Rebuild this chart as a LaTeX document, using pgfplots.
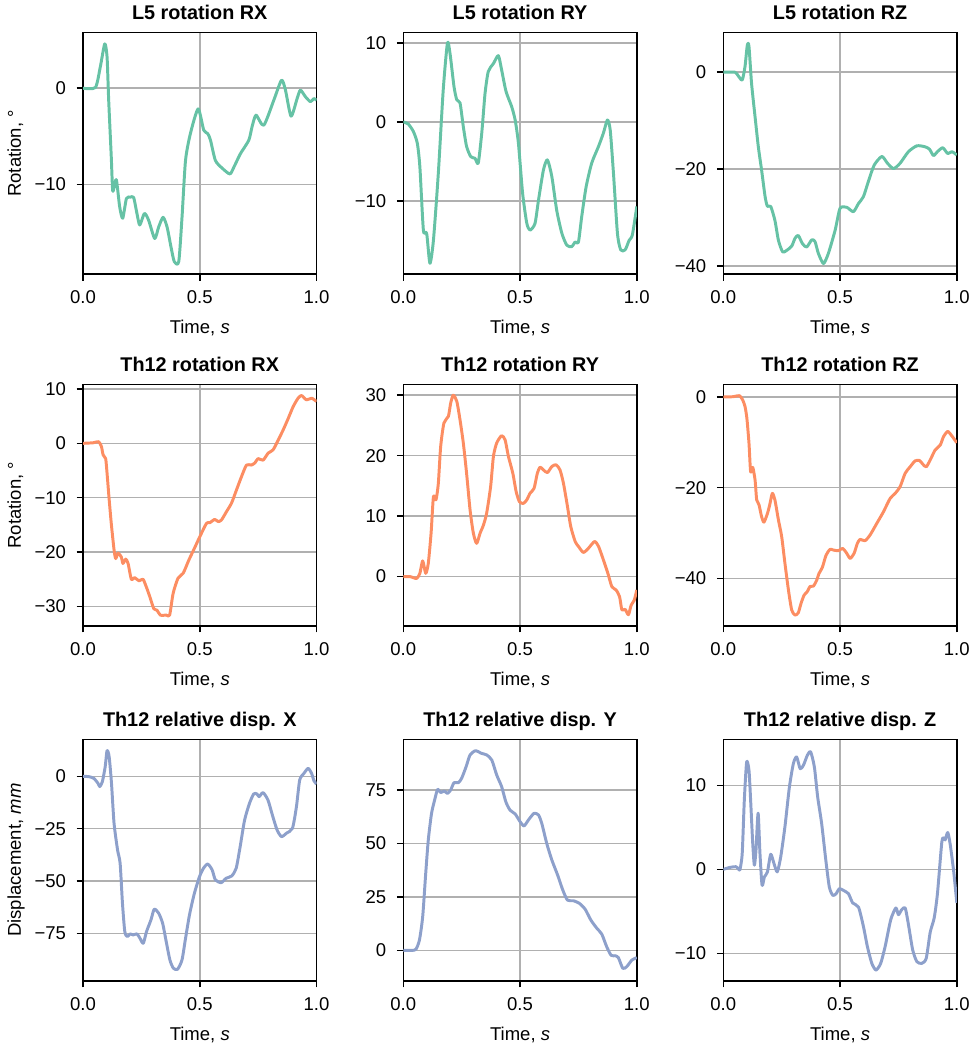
\documentclass[border=0pt]{standalone}
\usepackage{fontspec}
\setmainfont{Liberation Sans}
\usepackage{pgfplots}
\pgfplotsset{compat=1.18}
\definecolor{cg}{HTML}{66C2A5}
\definecolor{co}{HTML}{FC8D62}
\definecolor{cb}{HTML}{8DA0CB}
\definecolor{gridc}{HTML}{B0B0B0}
\pgfplotsset{
  myax/.style={
    scale only axis, width=126.1pt, height=130.5pt,
    anchor=north west,
    xmin=0, xmax=1,
    xtick={0,0.5,1}, xticklabels={0.0,0.5,1.0},
    grid=major, major grid style={gridc, line width=0.8pt},
    axis line style={line width=0.8pt},
    every tick/.style={black, line width=0.8pt},
    major tick length=3.5pt,
    tick align=outside, xtick pos=bottom, ytick pos=left,
    xticklabel style={anchor=north, inner sep=0pt, yshift=-5.3pt},
    yticklabel style={anchor=east, inner sep=0pt, xshift=-5.5pt},
    title style={font=\fontsize{10.7}{12}\selectfont\bfseries, at={(axis description cs:0.5,1.0076)}, anchor=base, inner sep=0pt},
    xlabel style={at={(axis description cs:0.5,-0.246)}, anchor=base, inner sep=0pt},
    ylabel style={at={(axis description cs:-0.266,0.5)}, anchor=base, inner sep=0pt},
    xlabel={Time, \textit{s}},
    every axis plot/.append style={line width=1.6pt, line join=round, smooth, tension=0.4},
  }
}
\begin{document}
\begin{tikzpicture}
\path[use as bounding box] (0,0) rectangle (527.04pt,-564.84pt);
% Row 1
\begin{axis}[myax, at={(44.82pt,-17.55pt)}, title={L5 rotation RX}, ylabel={Rotation, °},
  ymin=-19.3, ymax=5.78, ytick={-10,0}, yticklabels={−10,0}]
\addplot[cg] coordinates {(0,0)(0.053,0.07)(0.074,2.2)(0.093,4.6)(0.103,3.25)(0.11,-1.25)(0.121,-7.1)(0.127,-10.6)(0.134,-10.2)(0.143,-9.5)(0.157,-12.3)(0.17,-13.5)(0.186,-11.45)(0.203,-11.3)(0.217,-11.35)(0.231,-13.0)(0.243,-14.2)(0.263,-13.0)(0.281,-13.7)(0.307,-15.6)(0.324,-14.4)(0.343,-13.4)(0.36,-14.4)(0.377,-16.5)(0.391,-18.0)(0.41,-18.0)(0.424,-13.4)(0.439,-7.5)(0.46,-4.7)(0.493,-2.15)(0.517,-4.35)(0.534,-4.7)(0.546,-5.4)(0.567,-7.5)(0.596,-8.3)(0.629,-8.9)(0.646,-8.2)(0.674,-6.8)(0.71,-5.4)(0.724,-4.0)(0.741,-2.8)(0.774,-3.85)(0.817,-1.25)(0.85,0.83)(0.867,-0.2)(0.891,-2.9)(0.917,-1.07)(0.931,-0.2)(0.953,-0.9)(0.974,-1.4)(0.989,-1.07)(1.0,-1.25)};
\end{axis}
\begin{axis}[myax, at={(217.78pt,-17.55pt)}, title={L5 rotation RY},
  ymin=-19.28, ymax=11.33, ytick={-10,0,10}, yticklabels={−10,0,10}]
\addplot[cg] coordinates {(0,0)(0.021,-0.25)(0.043,-1.2)(0.06,-2.7)(0.071,-5.7)(0.086,-13.7)(0.1,-14.1)(0.114,-17.9)(0.129,-15)(0.15,-6.5)(0.171,4.06)(0.189,10)(0.2,8.7)(0.217,4.5)(0.229,2.8)(0.243,2.4)(0.257,-0.6)(0.271,-3.1)(0.289,-4.4)(0.307,-4.6)(0.321,-5.2)(0.336,-1.4)(0.35,3.6)(0.364,6.4)(0.386,7.4)(0.407,8.4)(0.421,6.6)(0.44,3.85)(0.464,1.95)(0.479,0.25)(0.493,-2.7)(0.511,-9.05)(0.529,-12.85)(0.543,-13.7)(0.564,-12.85)(0.579,-9.9)(0.6,-6.1)(0.617,-4.8)(0.636,-6.9)(0.657,-11.2)(0.679,-14.1)(0.7,-15.6)(0.721,-15.8)(0.736,-15.2)(0.75,-15.2)(0.764,-12.0)(0.783,-8.2)(0.807,-5.2)(0.836,-3.1)(0.857,-1.4)(0.874,0.25)(0.886,-1.0)(0.9,-6.5)(0.917,-14.1)(0.931,-16.2)(0.95,-16.2)(0.967,-15.0)(0.981,-14.3)(1.0,-10.7)};
\end{axis}
\begin{axis}[myax, at={(390.58pt,-17.55pt)}, title={L5 rotation RZ},
  ymin=-41.7, ymax=8.2, ytick={-40,-20,0}, yticklabels={−40,−20,0}]
\addplot[cg] coordinates {(0,0)(0.05,0)(0.064,-0.76)(0.081,-1.6)(0.093,1.2)(0.103,5.66)(0.11,5.3)(0.121,-2.3)(0.136,-9.2)(0.15,-15.4)(0.164,-20.2)(0.179,-25.7)(0.189,-27.7)(0.203,-27.7)(0.221,-30.6)(0.236,-34.7)(0.254,-37.1)(0.271,-36.8)(0.293,-35.9)(0.307,-34.3)(0.321,-33.7)(0.339,-35.4)(0.357,-36.1)(0.379,-34.6)(0.393,-35)(0.407,-37.4)(0.429,-39.5)(0.45,-37.4)(0.479,-32.6)(0.5,-28.1)(0.529,-27.9)(0.557,-28.8)(0.579,-27.1)(0.6,-25.7)(0.621,-22.6)(0.646,-19.2)(0.679,-17.4)(0.703,-18.8)(0.729,-19.9)(0.757,-18.8)(0.793,-16.4)(0.829,-15.2)(0.864,-15.4)(0.883,-15.9)(0.9,-17.2)(0.917,-16.4)(0.94,-15.6)(0.961,-16.8)(0.979,-16.4)(1.0,-17.1)};
\end{axis}
% Row 2
\begin{axis}[myax, at={(44.82pt,-207.52pt)}, title={Th12 rotation RX}, ylabel={Rotation, °},
  ymin=-33.6, ymax=10.86, ytick={-30,-20,-10,0,10}, yticklabels={−30,−20,−10,0,10}]
\addplot[co] coordinates {(0,0)(0.043,0.1)(0.067,0.3)(0.079,-0.6)(0.086,-2.1)(0.097,-2.8)(0.103,-5.5)(0.111,-9.8)(0.121,-14.7)(0.133,-19.6)(0.14,-21.2)(0.15,-20.2)(0.164,-20.9)(0.171,-22.1)(0.183,-21.3)(0.193,-22.1)(0.207,-25.0)(0.221,-24.7)(0.24,-25.3)(0.257,-25.0)(0.271,-26.4)(0.286,-28.2)(0.303,-30.4)(0.317,-30.7)(0.331,-31.6)(0.357,-31.6)(0.371,-31.6)(0.386,-27.6)(0.407,-24.8)(0.429,-23.9)(0.453,-21.5)(0.474,-19.6)(0.5,-17.2)(0.529,-14.7)(0.543,-14.6)(0.564,-14.0)(0.579,-14.4)(0.593,-14.1)(0.614,-12.6)(0.636,-11.0)(0.657,-8.6)(0.679,-6.1)(0.7,-4.0)(0.721,-4.0)(0.736,-3.6)(0.75,-2.8)(0.771,-3.1)(0.793,-1.8)(0.814,-1.2)(0.836,0.6)(0.857,2.45)(0.879,4.6)(0.9,6.75)(0.921,8.3)(0.936,8.8)(0.957,8.0)(0.979,8.3)(1.0,7.7)};
\end{axis}
\begin{axis}[myax, at={(217.78pt,-207.52pt)}, title={Th12 rotation RY},
  ymin=-8.16, ymax=31.8, ytick={0,10,20,30}, yticklabels={0,10,20,30}]
\addplot[co] coordinates {(0,0)(0.029,0)(0.057,-0.3)(0.071,0.55)(0.083,2.6)(0.096,0.55)(0.107,2.2)(0.119,7.2)(0.129,13.2)(0.14,12.7)(0.15,15.4)(0.16,21.5)(0.174,25.4)(0.193,26.5)(0.203,28.7)(0.214,30)(0.229,29)(0.243,25.9)(0.257,22.1)(0.271,17.1)(0.286,11)(0.3,7.2)(0.314,5.5)(0.329,7.2)(0.343,8.5)(0.357,10.5)(0.374,14.9)(0.386,19.9)(0.4,22.1)(0.421,23.3)(0.436,22.6)(0.45,19.9)(0.469,17.1)(0.483,14.1)(0.497,12.4)(0.514,12.1)(0.529,12.7)(0.543,13.8)(0.56,14.6)(0.574,17.1)(0.586,18.1)(0.6,17.65)(0.617,17.2)(0.636,18.2)(0.654,18.5)(0.671,17.65)(0.686,15.4)(0.703,11.6)(0.717,8.3)(0.736,5.8)(0.75,5.0)(0.771,4.0)(0.793,4.7)(0.819,5.8)(0.836,5.0)(0.857,2.75)(0.876,0.55)(0.893,-1.65)(0.911,-2.2)(0.926,-3.3)(0.936,-5.5)(0.95,-5.4)(0.964,-6.3)(0.976,-4.7)(0.989,-3.9)(1.0,-2.2)};
\end{axis}
\begin{axis}[myax, at={(390.58pt,-207.52pt)}, title={Th12 rotation RZ},
  ymin=-50.5, ymax=2.8, ytick={-40,-20,0}, yticklabels={−40,−20,0}]
\addplot[co] coordinates {(0,0)(0.043,0.07)(0.069,0.3)(0.083,-0.66)(0.093,-2.1)(0.101,-4.7)(0.11,-10.2)(0.117,-16.5)(0.126,-15.5)(0.136,-18.3)(0.143,-22.7)(0.153,-23.8)(0.164,-26.4)(0.174,-27.6)(0.189,-25.7)(0.2,-23.5)(0.21,-21.25)(0.221,-22.7)(0.236,-27.1)(0.25,-30.8)(0.264,-36.7)(0.279,-42.6)(0.293,-47.0)(0.307,-48.1)(0.321,-47.6)(0.333,-45.5)(0.346,-43.7)(0.36,-42.9)(0.371,-41.8)(0.386,-41.7)(0.4,-40.4)(0.41,-38.9)(0.424,-37.6)(0.44,-34.9)(0.457,-33.6)(0.471,-33.75)(0.493,-33.9)(0.511,-33.4)(0.529,-34.5)(0.543,-35.6)(0.56,-34.5)(0.574,-32.3)(0.586,-31.4)(0.607,-31.7)(0.629,-30.4)(0.657,-27.9)(0.686,-25.3)(0.714,-22.4)(0.736,-21.25)(0.757,-19.8)(0.779,-16.8)(0.8,-15.4)(0.821,-14.1)(0.84,-14.0)(0.854,-14.8)(0.869,-15.4)(0.886,-13.9)(0.907,-11.7)(0.929,-10.6)(0.943,-8.75)(0.961,-7.6)(0.979,-8.6)(1.0,-10.1)};
\end{axis}
% Row 3
\begin{axis}[myax, at={(44.82pt,-399.22pt)}, title={Th12 relative disp. X}, ylabel={Displacement, \textit{mm}},
  ymin=-97.8, ymax=17.7, ytick={-75,-50,-25,0}, yticklabels={−75,−50,−25,0}]
\addplot[cb] coordinates {(0,0)(0.026,-0.16)(0.047,-1.0)(0.064,-3.3)(0.072,-4.9)(0.083,-2.5)(0.095,4.6)(0.103,12.3)(0.112,9.4)(0.122,-3.3)(0.133,-22.5)(0.148,-35.2)(0.159,-41.6)(0.169,-60.7)(0.179,-74.2)(0.19,-76.6)(0.202,-75.3)(0.215,-75.8)(0.231,-75.3)(0.244,-77.4)(0.258,-79.8)(0.272,-74.2)(0.291,-68.6)(0.305,-63.5)(0.324,-65.4)(0.341,-70.2)(0.355,-78.2)(0.372,-87.7)(0.387,-91.7)(0.405,-92.2)(0.424,-87.7)(0.438,-78.2)(0.456,-66.2)(0.477,-55.9)(0.499,-47.9)(0.516,-43.9)(0.534,-41.9)(0.553,-44.7)(0.567,-49.5)(0.592,-50.8)(0.613,-48.7)(0.637,-47.6)(0.656,-43.9)(0.673,-33.6)(0.692,-20.9)(0.713,-12.9)(0.731,-8.4)(0.745,-8.4)(0.754,-9.7)(0.771,-7.8)(0.792,-11.3)(0.811,-18.5)(0.831,-25.6)(0.85,-28.8)(0.871,-27.2)(0.897,-24.8)(0.914,-14.5)(0.928,-1.75)(0.946,1.4)(0.964,3.8)(0.979,1.4)(0.989,-2.1)(1.0,-3.7)};
\end{axis}
\begin{axis}[myax, at={(217.78pt,-399.22pt)}, title={Th12 relative disp. Y},
  ymin=-14.3, ymax=98.7, ytick={0,25,50,75}, yticklabels={0,25,50,75}]
\addplot[cb] coordinates {(0,0)(0.036,0)(0.054,0.5)(0.069,4.8)(0.083,15.7)(0.096,36)(0.107,51.6)(0.121,64.1)(0.136,71.1)(0.147,75.3)(0.16,73.8)(0.176,74.5)(0.189,73.4)(0.203,75.0)(0.217,78.4)(0.236,78.4)(0.25,80.5)(0.269,85.9)(0.286,91.4)(0.31,93.4)(0.333,92.2)(0.357,91.4)(0.379,89.0)(0.4,82.0)(0.421,76.6)(0.439,69.5)(0.457,65.6)(0.479,63.8)(0.5,60.2)(0.517,58.2)(0.536,61.0)(0.56,64.1)(0.579,63.3)(0.593,59.4)(0.614,50.1)(0.636,42.3)(0.661,35.2)(0.683,28.2)(0.703,23.5)(0.729,23.2)(0.754,22.0)(0.779,19.2)(0.803,14.2)(0.829,10.3)(0.85,7.6)(0.871,1.7)(0.89,-2.3)(0.907,-2.5)(0.921,-3.4)(0.94,-8.4)(0.957,-7.6)(0.979,-4.5)(1.0,-3.4)};
\end{axis}
\begin{axis}[myax, at={(390.58pt,-399.22pt)}, title={Th12 relative disp. Z},
  ymin=-13.3, ymax=15.5, ytick={-10,0,10}, yticklabels={−10,0,10}]
\addplot[cb] coordinates {(0,0)(0.029,0.24)(0.054,0.32)(0.064,0.12)(0.071,-0.08)(0.081,1.9)(0.09,8.25)(0.1,12.8)(0.11,11.8)(0.117,8.25)(0.126,3.1)(0.133,0.5)(0.14,2.3)(0.149,6.7)(0.157,1.9)(0.166,-1.9)(0.176,-0.9)(0.189,-0.3)(0.203,1.8)(0.217,0.7)(0.231,-0.3)(0.246,1.5)(0.264,5.1)(0.283,9.8)(0.3,12.6)(0.314,13.4)(0.329,12.0)(0.343,12.4)(0.36,13.6)(0.374,14.0)(0.39,12.2)(0.404,8.65)(0.421,5.5)(0.439,1.1)(0.454,-2.1)(0.469,-3.1)(0.483,-2.9)(0.497,-2.3)(0.514,-2.5)(0.536,-2.9)(0.554,-4.0)(0.579,-4.5)(0.6,-6.8)(0.617,-9.2)(0.636,-11.2)(0.654,-12.0)(0.674,-11.2)(0.693,-9.2)(0.717,-6.0)(0.739,-4.6)(0.75,-5.4)(0.764,-4.8)(0.779,-4.6)(0.793,-6.6)(0.811,-9.6)(0.829,-11.0)(0.85,-11.2)(0.869,-10.6)(0.886,-7.5)(0.903,-5.8)(0.917,-2.9)(0.936,3.3)(0.946,3.7)(0.95,3.5)(0.961,4.4)(0.971,3.1)(0.986,-0.1)(1.0,-4.0)};
\end{axis}
\end{tikzpicture}
\end{document}
